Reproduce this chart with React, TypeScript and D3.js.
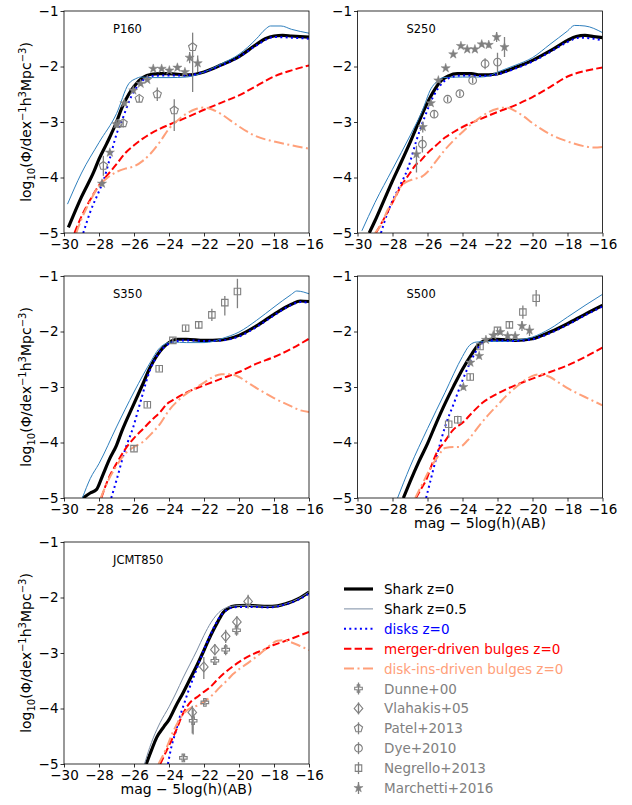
import React, { useEffect, useRef } from "react";
import * as d3 from "d3";

const xTicks = [-30, -28, -26, -24, -22, -20, -18, -16];
const yTicks = [-5, -4, -3, -2, -1];

// ---- P160 ----
const p160SharkZ0 = [[-29.75,-4.9],[-29,-4.35],[-28.3,-3.9],[-28,-3.67],[-27.56,-3.39],[-27,-3.0],[-26.7,-2.75],[-26.3,-2.5],[-26,-2.36],[-25.5,-2.2],[-25,-2.14],[-24.5,-2.13],[-24,-2.13],[-23,-2.15],[-22.5,-2.14],[-22,-2.1],[-21,-1.97],[-20,-1.82],[-19,-1.6],[-18.5,-1.5],[-18,-1.45],[-17.5,-1.44],[-17,-1.45],[-16,-1.47]];
const p160SharkZ05 = [[-29.8,-4.48],[-29,-3.92],[-28,-3.37],[-27,-2.85],[-26.3,-2.31],[-25.9,-2.22],[-25.6,-2.19],[-25,-2.2],[-24,-2.2],[-23,-2.19],[-22,-2.1],[-21,-1.95],[-20,-1.78],[-19,-1.5],[-18.5,-1.33],[-18.2,-1.27],[-17.6,-1.27],[-17,-1.33],[-16,-1.4]];
const p160Disks = [[-28.9,-5],[-28.5,-4.62],[-28,-4.25],[-27.75,-4.06],[-27.4,-3.68],[-27,-3.22],[-26.6,-2.9],[-26.3,-2.64],[-26,-2.45],[-25.5,-2.25],[-25,-2.17],[-24,-2.16],[-23,-2.16],[-22,-2.1],[-21,-1.98],[-20,-1.83],[-19,-1.62],[-18,-1.47],[-17,-1.48],[-16,-1.5]];
const p160Merger = [[-29.4,-5],[-29,-4.7],[-28.5,-4.4],[-28,-4.14],[-27.5,-3.95],[-27,-3.76],[-26.5,-3.56],[-26,-3.42],[-25.5,-3.3],[-25,-3.2],[-24.5,-3.12],[-24,-3.05],[-23,-2.92],[-22,-2.78],[-21,-2.65],[-20,-2.52],[-19,-2.35],[-18,-2.18],[-17,-2.07],[-16,-1.98]];
const p160DiskIns = [[-29.3,-5],[-29,-4.75],[-28.5,-4.42],[-28,-4.15],[-27.5,-4.0],[-27,-3.9],[-26.5,-3.84],[-26,-3.8],[-25.5,-3.7],[-25,-3.55],[-24.5,-3.35],[-24,-3.12],[-23.5,-2.97],[-23,-2.85],[-22.5,-2.77],[-22,-2.74],[-21.5,-2.78],[-21,-2.86],[-20.5,-2.97],[-20,-3.08],[-19.5,-3.18],[-19,-3.26],[-18,-3.35],[-17,-3.42],[-16,-3.48]];
const p160Patel = [[-27.75,-3.79,0.18,0.18],[-26.9,-3.03,0.08,0.08],[-26.62,-3.02,0.08,0.08],[-25.7,-2.58,0.06,0.06],[-24.67,-2.5,0.12,0.12],[-23.7,-2.79,0.2,0.37],[-22.65,-1.65,0.26,0.81]];
const p160Marchetti = [[-27.83,-4.11,0.05,0.05],[-27.38,-3.55,0.05,0.05],[-27.0,-3.04,0.05,0.05],[-26.55,-2.66,0.05,0.05],[-26.04,-2.43,0.04,0.04],[-25.62,-2.31,0.04,0.04],[-25.24,-2.24,0.04,0.04],[-24.9,-2.04,0.03,0.03],[-24.42,-2.04,0.03,0.03],[-23.98,-2.07,0.04,0.04],[-23.52,-2.02,0.04,0.04],[-23.09,-2.1,0.05,0.05],[-22.82,-1.84,0.1,0.1],[-22.36,-1.94,0.14,0.16]];

// ---- S250 ----
const s250SharkZ0 = [[-29.33,-5],[-29,-4.78],[-28.5,-4.42],[-28,-4.06],[-27.5,-3.72],[-27,-3.37],[-26.5,-3.0],[-26,-2.65],[-25.6,-2.42],[-25.2,-2.25],[-24.8,-2.17],[-24.3,-2.13],[-23.5,-2.13],[-23,-2.15],[-22.5,-2.15],[-22,-2.13],[-21,-2.02],[-20,-1.89],[-19,-1.72],[-18,-1.53],[-17.5,-1.46],[-17,-1.44],[-16.5,-1.46],[-16,-1.48]];
const s250SharkZ05 = [[-29.75,-4.96],[-29,-4.45],[-28,-3.85],[-27,-3.25],[-26.3,-2.8],[-25.8,-2.4],[-25.5,-2.28],[-25.1,-2.2],[-24,-2.19],[-23,-2.19],[-22.5,-2.17],[-22,-2.1],[-21,-1.98],[-20,-1.84],[-19,-1.6],[-18,-1.36],[-17.6,-1.26],[-17,-1.27],[-16,-1.39]];
const s250Disks = [[-28.66,-5],[-28.3,-4.65],[-28,-4.42],[-27.5,-4.1],[-27.1,-3.82],[-26.63,-3.33],[-26.16,-2.91],[-25.68,-2.55],[-25.1,-2.28],[-24.62,-2.19],[-24,-2.16],[-23,-2.17],[-22,-2.14],[-21,-2.04],[-20,-1.91],[-19,-1.74],[-18,-1.56],[-17.3,-1.48],[-16.5,-1.5],[-16,-1.53]];
const s250Merger = [[-28.95,-5],[-28.5,-4.75],[-28,-4.45],[-27.5,-4.15],[-27,-3.92],[-26.7,-3.78],[-26.4,-3.7],[-26,-3.56],[-25.5,-3.42],[-25,-3.28],[-24.5,-3.18],[-24,-3.09],[-23,-2.95],[-22,-2.82],[-21,-2.7],[-20,-2.55],[-19,-2.37],[-18,-2.18],[-17,-2.08],[-16,-2.02]];
const s250DiskIns = [[-29,-5],[-28.6,-4.82],[-28.3,-4.6],[-28,-4.45],[-27.5,-4.15],[-27.2,-4.08],[-26.8,-4.03],[-26.3,-3.98],[-26,-3.9],[-25.5,-3.7],[-25,-3.5],[-24.5,-3.33],[-24,-3.18],[-23.5,-3.04],[-23,-2.92],[-22.5,-2.82],[-22,-2.76],[-21.5,-2.74],[-21,-2.8],[-20.5,-2.9],[-20,-3.02],[-19,-3.22],[-18,-3.35],[-17,-3.44],[-16.5,-3.46],[-16,-3.45]];
const s250Dye = [[-26.29,-3.4,0.15,0.15],[-25.62,-2.86,0.07,0.07],[-24.85,-2.59,0.05,0.05],[-24.15,-2.49,0.05,0.05],[-23.42,-2.25,0.05,0.05],[-22.71,-1.95,0.1,0.1],[-22.0,-1.92,0.17,0.25]];
const s250Marchetti = [[-26.63,-3.58,0.15,0.33],[-26.27,-3.09,0.1,0.1],[-25.81,-2.66,0.05,0.05],[-25.38,-2.25,0.04,0.04],[-24.96,-2.03,0.03,0.03],[-24.53,-1.78,0.03,0.03],[-24.09,-1.63,0.03,0.03],[-23.73,-1.69,0.03,0.03],[-23.29,-1.69,0.04,0.04],[-22.9,-1.6,0.04,0.04],[-22.5,-1.61,0.05,0.05],[-22.05,-1.47,0.09,0.09],[-21.6,-1.65,0.18,0.18]];

// ---- S350 ----
const s350SharkZ0 = [[-28.91,-5],[-28.5,-4.91],[-28.15,-4.85],[-27.8,-4.6],[-27.4,-4.3],[-27,-4.05],[-26.7,-3.8],[-26,-3.3],[-25.5,-2.95],[-25.1,-2.66],[-24.5,-2.35],[-24.2,-2.25],[-23.85,-2.17],[-23.5,-2.14],[-23,-2.14],[-22,-2.16],[-21,-2.15],[-20,-2.07],[-19,-1.9],[-18,-1.69],[-17,-1.51],[-16.5,-1.45],[-16,-1.46]];
const s350SharkZ05 = [[-28.95,-5],[-28.5,-4.65],[-28,-4.38],[-27,-3.72],[-26,-3.09],[-25,-2.52],[-24.6,-2.32],[-24.2,-2.22],[-23.8,-2.19],[-23,-2.2],[-22,-2.2],[-21.5,-2.18],[-21,-2.13],[-20,-2.01],[-19,-1.8],[-18,-1.56],[-17,-1.33],[-16.7,-1.27],[-16.3,-1.29],[-16,-1.32]];
const s350Disks = [[-27.3,-5],[-27,-4.68],[-26.5,-4.12],[-26.04,-3.72],[-25.66,-3.3],[-25.09,-2.7],[-24.61,-2.4],[-24.14,-2.25],[-23.5,-2.17],[-23,-2.16],[-22,-2.17],[-21,-2.16],[-20,-2.09],[-19,-1.92],[-18,-1.71],[-17,-1.52],[-16.5,-1.47],[-16,-1.48]];
const s350Merger = [[-27.87,-5],[-27.5,-4.68],[-27,-4.38],[-26.5,-4.12],[-26,-3.92],[-25.5,-3.76],[-25,-3.6],[-24.5,-3.45],[-24.1,-3.3],[-23.85,-3.25],[-23,-3.1],[-22,-2.97],[-21,-2.85],[-20,-2.73],[-19,-2.58],[-18,-2.46],[-17,-2.31],[-16,-2.13]];
const s350DiskIns = [[-27.9,-5],[-27.5,-4.7],[-27,-4.42],[-26.5,-4.2],[-26,-4.08],[-25.5,-3.99],[-25,-3.84],[-24.5,-3.66],[-24,-3.42],[-23.5,-3.25],[-23,-3.12],[-22.5,-3.02],[-22,-2.92],[-21.5,-2.82],[-21,-2.77],[-20.5,-2.77],[-20,-2.82],[-19.5,-2.92],[-19,-3.02],[-18,-3.2],[-17,-3.35],[-16.5,-3.42],[-16,-3.45]];
const s350Negrello = [[-26.0,-4.11,0.05,0.05],[-25.24,-3.32,0.05,0.05],[-24.56,-2.67,0.05,0.05],[-23.78,-2.16,0.05,0.05],[-23.05,-1.94,0.05,0.05],[-22.3,-1.88,0.07,0.07],[-21.55,-1.7,0.11,0.11],[-20.81,-1.48,0.12,0.23],[-20.09,-1.28,0.23,0.3]];

// ---- S500 ----
const s500SharkZ0 = [[-27.38,-5],[-27,-4.71],[-26.5,-4.35],[-26,-4.02],[-25.5,-3.65],[-25,-3.3],[-24.5,-2.98],[-24,-2.68],[-23.5,-2.42],[-23.1,-2.24],[-22.7,-2.16],[-22.3,-2.14],[-22,-2.14],[-21,-2.16],[-20,-2.13],[-19,-2.01],[-18,-1.86],[-17,-1.69],[-16,-1.53]];
const s500SharkZ05 = [[-27.71,-5],[-27,-4.44],[-26,-3.75],[-25,-3.1],[-24,-2.45],[-23.6,-2.25],[-23.2,-2.19],[-22.5,-2.18],[-21.5,-2.18],[-21,-2.16],[-20,-2.1],[-19,-1.95],[-18,-1.74],[-17,-1.53],[-16,-1.33]];
const s500Disks = [[-26.08,-5],[-25.8,-4.65],[-25.5,-4.28],[-25,-3.72],[-24.5,-3.3],[-24,-2.88],[-23.5,-2.52],[-23,-2.25],[-22.5,-2.16],[-22,-2.16],[-21,-2.17],[-20,-2.14],[-19,-2.03],[-18,-1.88],[-17,-1.71],[-16,-1.55]];
const s500Merger = [[-26.66,-5],[-26.3,-4.8],[-26.08,-4.68],[-25.8,-4.44],[-25.5,-4.2],[-25.03,-3.99],[-24.56,-3.78],[-23.98,-3.64],[-23.41,-3.45],[-22.84,-3.28],[-22,-3.12],[-21,-2.97],[-20,-2.85],[-19,-2.73],[-18,-2.61],[-17,-2.46],[-16,-2.29]];
const s500DiskIns = [[-26.7,-5],[-26.3,-4.75],[-25.9,-4.5],[-25.4,-4.25],[-25,-4.1],[-24.5,-4.08],[-24.17,-4.08],[-23.7,-3.96],[-23.03,-3.69],[-22.46,-3.48],[-21.98,-3.32],[-21.5,-3.16],[-20.93,-3.0],[-20.45,-2.88],[-20,-2.8],[-19.6,-2.77],[-19,-2.82],[-18.5,-2.92],[-18,-3.02],[-17,-3.18],[-16,-3.33]];
const s500Negrello = [[-24.79,-3.67,0.1,0.25],[-24.27,-3.59,0.07,0.07],[-23.56,-2.82,0.06,0.06],[-23.0,-2.27,0.05,0.05],[-22.0,-1.98,0.05,0.05],[-21.32,-1.88,0.06,0.06],[-20.55,-1.65,0.12,0.12],[-19.79,-1.4,0.15,0.15]];
const s500Marchetti = [[-23.95,-3.0,0.05,0.05],[-23.55,-2.56,0.05,0.05],[-23.05,-2.44,0.05,0.05],[-22.66,-2.15,0.04,0.04],[-22.24,-2.07,0.04,0.04],[-21.84,-2.01,0.04,0.04],[-21.42,-2.08,0.04,0.04],[-20.99,-2.08,0.05,0.05],[-20.6,-1.9,0.09,0.09],[-20.17,-1.98,0.1,0.1]];

// ---- JCMT850 ----
const jcmtSharkZ0 = [[-25.3,-5],[-25,-4.75],[-24.7,-4.52],[-24.3,-4.33],[-24,-4.2],[-23.6,-3.95],[-23.2,-3.72],[-22.8,-3.47],[-22.4,-3.22],[-22,-2.95],[-21.6,-2.67],[-21.2,-2.43],[-20.9,-2.27],[-20.6,-2.19],[-20.2,-2.15],[-19.6,-2.14],[-19,-2.15],[-18.4,-2.16],[-17.8,-2.15],[-17.3,-2.11],[-16.6,-2.02],[-16,-1.9]];
const jcmtSharkZ05 = [[-25.4,-5],[-25.1,-4.7],[-24.9,-4.53],[-24.5,-4.25],[-24,-3.97],[-23.6,-3.72],[-23.2,-3.45],[-22.8,-3.2],[-22.4,-2.95],[-22,-2.68],[-21.6,-2.45],[-21.3,-2.32],[-21,-2.23],[-20.7,-2.18],[-20.2,-2.15],[-19.6,-2.14],[-19,-2.15],[-18.4,-2.16],[-17.8,-2.15],[-17.3,-2.11],[-16.6,-2.02],[-16,-1.9]];
const jcmtDisks = [[-24.06,-5],[-23.87,-4.7],[-23.6,-4.4],[-23.39,-4.16],[-23.1,-3.88],[-22.82,-3.62],[-22.5,-3.36],[-22.25,-3.14],[-21.95,-2.9],[-21.68,-2.71],[-21.4,-2.52],[-21.1,-2.35],[-20.8,-2.25],[-20.5,-2.19],[-20,-2.17],[-19,-2.17],[-18.4,-2.18],[-17.8,-2.16],[-17.3,-2.12],[-16.6,-2.04],[-16,-1.93]];
const jcmtMerger = [[-24.5,-5],[-24.2,-4.8],[-23.96,-4.64],[-23.6,-4.4],[-23.3,-4.16],[-23,-3.98],[-22.7,-3.86],[-22.42,-3.8],[-22.1,-3.72],[-21.66,-3.62],[-21.3,-3.5],[-20.9,-3.38],[-20.34,-3.24],[-19.94,-3.15],[-19.2,-3.02],[-18.5,-2.93],[-18.06,-2.86],[-17.5,-2.8],[-16.9,-2.73],[-16,-2.62]];
const jcmtDiskIns = [[-24.6,-5],[-24.2,-4.75],[-23.77,-4.42],[-23.4,-4.2],[-23.1,-4.07],[-22.7,-3.98],[-22.4,-3.95],[-22,-3.88],[-21.5,-3.75],[-21.1,-3.62],[-20.7,-3.5],[-20.34,-3.38],[-19.58,-3.2],[-18.82,-3.02],[-18.3,-2.88],[-17.8,-2.78],[-17.5,-2.77],[-17.1,-2.8],[-16.6,-2.86],[-16,-2.95]];
const jcmtDunne = [[-23.18,-4.89,0.06,0.06],[-22.62,-4.22,0.2,0.25],[-21.95,-3.89,0.05,0.05],[-21.38,-3.14,0.07,0.07],[-20.76,-2.94,0.1,0.1],[-20.14,-2.59,0.1,0.1]];
const jcmtVlahakis = [[-22.67,-4.07,0.12,0.38],[-22.01,-3.25,0.18,0.22],[-21.38,-2.94,0.1,0.1],[-20.76,-2.7,0.12,0.12],[-20.12,-2.44,0.1,0.1],[-19.48,-2.07,0.12,0.13]];

const legendLines = ["Shark z=0", "Shark z=0.5", "disks z=0", "merger-driven bulges z=0", "disk-ins-driven bulges z=0"];
const legendObs = ["Dunne+00", "Vlahakis+05", "Patel+2013", "Dye+2010", "Negrello+2013", "Marchetti+2016"];

const GREY = "#808080";
const SALMON = "#ffa07a";
const Z05_BLUE = "#2f7fbd";
const Z05_SLATE = "#7b8ca3";
const FONT = "DejaVu Sans, sans-serif";

const styles = {
  z0: { color: "black", width: 3.2, dash: null },
  z05: { color: Z05_BLUE, width: 1, dash: null },
  disks: { color: "blue", width: 2, dash: "2,3.3" },
  merger: { color: "red", width: 2, dash: "7.4,3.2" },
  diskIns: { color: SALMON, width: 2, dash: "10,3.5,2,3.5" },
};

const panels = [
  { name: "P160", left: 64, top: 11, lines: [p160SharkZ0, p160SharkZ05, p160Disks, p160Merger, p160DiskIns], obs: [[p160Patel, "pentagon"], [p160Marchetti, "star"]], yLabel: true, xLabel: false, z05Color: Z05_BLUE },
  { name: "S250", left: 357.5, top: 11, lines: [s250SharkZ0, s250SharkZ05, s250Disks, s250Merger, s250DiskIns], obs: [[s250Dye, "circle"], [s250Marchetti, "star"]], yLabel: false, xLabel: false, z05Color: Z05_BLUE },
  { name: "S350", left: 64, top: 276, lines: [s350SharkZ0, s350SharkZ05, s350Disks, s350Merger, s350DiskIns], obs: [[s350Negrello, "square"]], yLabel: true, xLabel: false, z05Color: Z05_BLUE },
  { name: "S500", left: 357.5, top: 276, lines: [s500SharkZ0, s500SharkZ05, s500Disks, s500Merger, s500DiskIns], obs: [[s500Negrello, "square"], [s500Marchetti, "star"]], yLabel: false, xLabel: true, z05Color: Z05_BLUE },
  { name: "JCMT850", left: 64, top: 542, lines: [jcmtSharkZ0, jcmtSharkZ05, jcmtDisks, jcmtMerger, jcmtDiskIns], obs: [[jcmtDunne, "plus"], [jcmtVlahakis, "diamond"]], yLabel: true, xLabel: true, z05Color: Z05_SLATE },
];

const PW = 245;
const PH = 222;

function polygon(n: number, r: number, rot: number) {
  const pts = d3.range(n).map((i) => {
    const a = rot + (i * 2 * Math.PI) / n;
    return [r * Math.cos(a), r * Math.sin(a)];
  });
  return "M" + pts.map((p) => p.join(",")).join("L") + "Z";
}

function markerPath(kind: string) {
  switch (kind) {
    case "circle": return d3.symbol(d3.symbolCircle, 46)();
    case "pentagon": return polygon(5, 4.3, -Math.PI / 2);
    case "square": return d3.symbol(d3.symbolSquare, 42)();
    case "diamond": return "M0,-5L4.3,0L0,5L-4.3,0Z";
    case "star": return d3.symbol(d3.symbolStar, 26)();
    case "plus": return d3.symbol(d3.symbolCross, 32)();
    default: return d3.symbol(d3.symbolCircle, 46)();
  }
}

function drawMarker(g: any, kind: string, cx: number, cy: number) {
  const filled = kind === "star";
  g.append("path")
    .attr("d", markerPath(kind))
    .attr("transform", `translate(${cx},${cy})`)
    .attr("fill", filled ? GREY : "none")
    .attr("stroke", GREY)
    .attr("stroke-width", filled ? 0.5 : 1.1);
}

function drawChartOn(svgEl: SVGSVGElement) {
  const svg = d3.select(svgEl);
  svg.selectAll("*").remove();
  const minus = (v: number) => (v < 0 ? "\u2212" + Math.abs(v) : String(v));

  panels.forEach((p, idx) => {
    const x = d3.scaleLinear().domain([-30, -16]).range([0, PW]);
    const y = d3.scaleLinear().domain([-5, -1]).range([PH, 0]);
    const g = svg.append("g").attr("transform", `translate(${p.left},${p.top})`);

    const clipId = "clip" + idx;
    g.append("clipPath").attr("id", clipId).append("rect").attr("width", PW).attr("height", PH);

    const line = d3.line<number[]>()
      .x((d) => x(d[0]))
      .y((d) => y(d[1]))
      .curve(d3.curveMonotoneX);

    const plot = g.append("g").attr("clip-path", `url(#${clipId})`);
    const keys = ["z0", "z05", "disks", "merger", "diskIns"];
    p.lines.forEach((data, i) => {
      const st = (styles as any)[keys[i]];
      plot.append("path")
        .datum(data)
        .attr("fill", "none")
        .attr("stroke", keys[i] === "z05" ? p.z05Color : st.color)
        .attr("stroke-width", st.width)
        .attr("stroke-dasharray", st.dash)
        .attr("stroke-linejoin", "round")
        .attr("d", line);
    });

    // observations with error bars
    p.obs.forEach(([pts, kind]: any) => {
      pts.forEach((d: number[]) => {
        plot.append("line")
          .attr("x1", x(d[0])).attr("x2", x(d[0]))
          .attr("y1", y(d[1] + d[2])).attr("y2", y(d[1] - d[3]))
          .attr("stroke", GREY).attr("stroke-width", 1.3);
      });
      pts.forEach((d: number[]) => drawMarker(plot, kind, x(d[0]), y(d[1])));
    });

    // frame
    g.append("rect").attr("width", PW).attr("height", PH)
      .attr("fill", "none").attr("stroke", "black").attr("stroke-width", 0.8);

    const xAxis = g.append("g").attr("transform", `translate(0,${PH})`)
      .call(d3.axisBottom(x).tickValues(xTicks).tickSize(3.5).tickPadding(2.5).tickFormat((v: any) => minus(v)));
    const yAxis = g.append("g")
      .call(d3.axisLeft(y).tickValues(yTicks).tickSize(3.5).tickPadding(2).tickFormat((v: any) => minus(v)));
    [xAxis, yAxis].forEach((a) => {
      a.select(".domain").remove();
      a.selectAll("line").attr("stroke-width", 0.8);
      a.selectAll("text").attr("font-size", 13.5).attr("font-family", FONT).attr("fill", "black");
    });

    g.append("text")
      .attr("x", x(-27.2)).attr("y", y(-1.4))
      .attr("font-size", 11.5).attr("font-family", FONT)
      .text(p.name);

    if (p.yLabel) {
      const t = g.append("text")
        .attr("transform", `translate(${-33},${PH / 2}) rotate(-90)`)
        .attr("text-anchor", "middle")
        .attr("font-size", 14).attr("font-family", FONT);
      t.append("tspan").text("log");
      t.append("tspan").attr("font-size", 10).attr("dy", 3.5).text("10");
      t.append("tspan").attr("dy", -3.5).text("(\u03A6/dex");
      t.append("tspan").attr("font-size", 10).attr("dy", -5.5).text("\u22121");
      t.append("tspan").attr("dy", 5.5).text("h");
      t.append("tspan").attr("font-size", 10).attr("dy", -5.5).text("3");
      t.append("tspan").attr("dy", 5.5).text("Mpc");
      t.append("tspan").attr("font-size", 10).attr("dy", -5.5).text("\u22123");
      t.append("tspan").attr("dy", 5.5).text(")");
    }
    if (p.xLabel) {
      g.append("text")
        .attr("x", PW / 2).attr("y", PH + 29.5)
        .attr("text-anchor", "middle")
        .attr("font-size", 14).attr("font-family", FONT)
        .text("mag \u2212 5log(h)(AB)");
    }
  });

  // legend
  const lg = svg.append("g");
  const rowY = (i: number) => 589 + i * 19.9;
  const lineStyles = [
    { ...styles.z0, text: "black" },
    { ...styles.z05, color: Z05_SLATE, text: "black" },
    { ...styles.disks, text: "blue" },
    { ...styles.merger, text: "red" },
    { ...styles.diskIns, text: SALMON },
  ];
  legendLines.forEach((label, i) => {
    const st = lineStyles[i];
    lg.append("line")
      .attr("x1", 344).attr("x2", 373).attr("y1", rowY(i)).attr("y2", rowY(i))
      .attr("stroke", st.color).attr("stroke-width", st.width)
      .attr("stroke-dasharray", st.dash);
    lg.append("text")
      .attr("x", 384).attr("y", rowY(i) + 5)
      .attr("font-size", 13.5).attr("font-family", FONT).attr("fill", st.text)
      .text(label);
  });
  const obsKinds = ["plus", "diamond", "pentagon", "circle", "square", "star"];
  legendObs.forEach((label, j) => {
    const i = j + legendLines.length;
    const cy = rowY(i);
    lg.append("line")
      .attr("x1", 358.5).attr("x2", 358.5).attr("y1", cy - 6).attr("y2", cy + 6)
      .attr("stroke", GREY).attr("stroke-width", 1.3);
    drawMarker(lg, obsKinds[j], 358.5, cy);
    lg.append("text")
      .attr("x", 384).attr("y", cy + 5)
      .attr("font-size", 13.5).attr("font-family", FONT).attr("fill", GREY)
      .text(label);
  });
}

const App = () => {
  const svgEl = useRef<SVGSVGElement>(null);

  useEffect(() => {
    if (!svgEl.current) return;
    drawChartOn(svgEl.current);
  }, []);

  return (
    <svg
      ref={svgEl}
      width={632}
      height={805}
      style={{ position: "absolute", left: 0, top: 0, background: "white" }}
    />
  );
};

export default App;
